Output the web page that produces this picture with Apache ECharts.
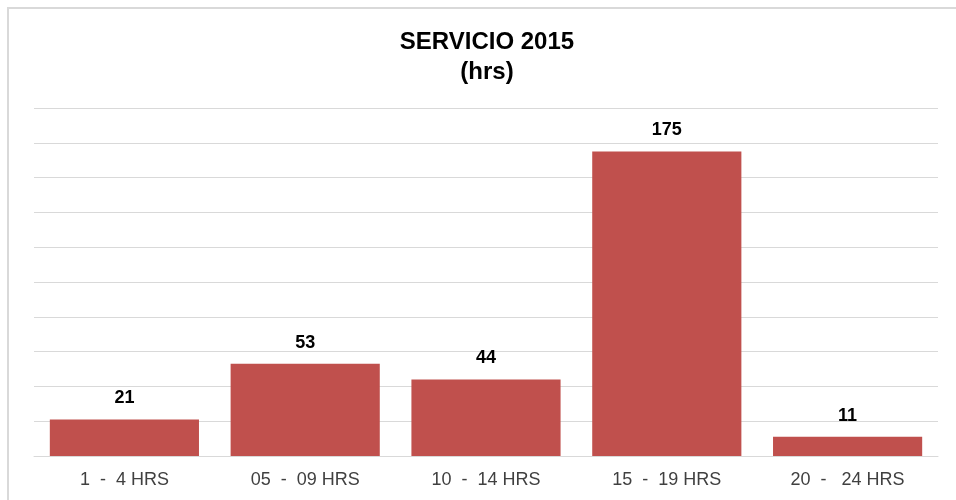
<!DOCTYPE html>
<html>
<head>
<meta charset="utf-8">
<script src="https://cdn.jsdelivr.net/npm/echarts@6/dist/echarts.min.js"></script>
<style>
html,body{margin:0;padding:0;background:#fff;}
#c{width:956px;height:500px;}
</style>
</head>
<body>
<div id="c"></div>
<script>
var categories = ['1  -  4 HRS', '05  -  09 HRS', '10  -  14 HRS', '15  -  19 HRS', '20  -   24 HRS'];
var values = [21, 53, 44, 175, 11];
var titleText = 'SERVICIO 2015\n(hrs)';

var chart = echarts.init(document.getElementById('c'), null, {renderer: 'canvas'});
chart.setOption({
  animation: false,
  backgroundColor: '#ffffff',
  textStyle: {fontFamily: 'Liberation Sans, Arial, sans-serif'},
  graphic: [{
    type: 'rect',
    shape: {x: 8, y: 8, width: 1200, height: 1200},
    style: {fill: 'none', stroke: '#d9d9d9', lineWidth: 2},
    silent: true,
    z: -1
  }],
  title: {
    text: titleText,
    left: 487,
    textAlign: 'center',
    top: 27,
    padding: 0,
    textStyle: {
      fontFamily: 'Liberation Sans, Arial, sans-serif',
      fontWeight: 'bold',
      fontSize: 24,
      lineHeight: 30,
      color: '#000'
    }
  },
  grid: {left: 34, right: 18, top: 108, bottom: 44, containLabel: false},
  xAxis: {
    type: 'category',
    data: categories,
    axisLine: {show: true, lineStyle: {color: '#d9d9d9', width: 1}},
    axisTick: {show: false},
    axisLabel: {
      color: '#404040',
      fontSize: 18,
      margin: 15,
      fontFamily: 'Liberation Sans, Arial, sans-serif'
    }
  },
  yAxis: {
    type: 'value',
    min: 0,
    max: 200,
    interval: 20,
    axisLine: {show: false},
    axisTick: {show: false},
    axisLabel: {show: false},
    splitLine: {show: true, lineStyle: {color: '#d9d9d9', width: 1}}
  },
  series: [{
    type: 'bar',
    data: values,
    barCategoryGap: '17.5%',
    itemStyle: {color: '#c0504d'},
    label: {
      show: true,
      position: 'top',
      distance: 12,
      color: '#000',
      fontWeight: 'bold',
      fontSize: 18,
      fontFamily: 'Liberation Sans, Arial, sans-serif'
    }
  }]
});
</script>
</body>
</html>
